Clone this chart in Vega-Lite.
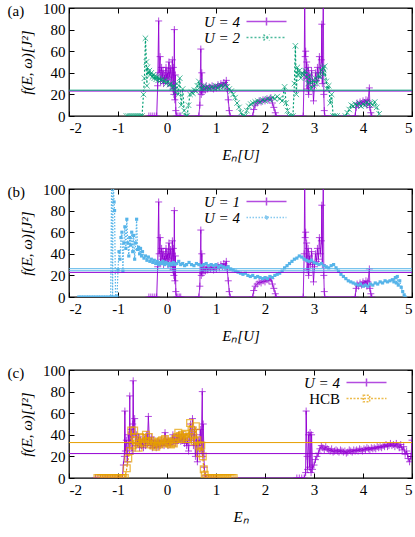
{
"$schema": "https://vega.github.io/schema/vega-lite/v6.json",
"padding": {"left": 6, "top": 0, "right": 0, "bottom": 0},
"spacing": 18,
"config": {
 "view": {"stroke": "black", "strokeWidth": 1.3},
 "font": "Liberation Serif",
 "axis": {"labelFont": "Liberation Serif", "labelFontSize": 15, "titleFont": "Liberation Serif", "titleFontSize": 15, "titleFontWeight": "normal", "titleFontStyle": "italic", "domain": false, "grid": false, "tickColor": "black", "labelColor": "black", "titleColor": "black", "tickSize": -5, "labelPadding": 9},
 "title": {"font": "Liberation Serif", "fontSize": 15, "fontWeight": "normal", "anchor": "start", "frame": "bounds", "offset": -18, "dx": -12},
 "legend": {"title": null, "orient": "none", "symbolSize": 64, "symbolStrokeWidth": 1.5, "labelAlign": "right", "labelOffset": -34, "labelFont": "Liberation Serif", "labelFontSize": 15, "rowPadding": -3, "labelColor": "black"}
},
"resolve": {"scale": {"color": "independent", "strokeDash": "independent", "shape": "independent"}, "legend": {"color": "independent", "strokeDash": "independent", "shape": "independent"}},
"datasets": {
"pa": [{"x":-0.37,"y":0},{"x":-0.33,"y":0},{"x":-0.29,"y":0},{"x":-0.25,"y":0},{"x":-0.21,"y":0},{"x":-0.19,"y":28},{"x":-0.17,"y":88},{"x":-0.16,"y":40},{"x":-0.14,"y":55},{"x":-0.13,"y":32},{"x":-0.11,"y":45},{"x":-0.1,"y":35},{"x":-0.08,"y":42},{"x":-0.07,"y":30},{"x":-0.05,"y":38},{"x":-0.04,"y":33},{"x":-0.02,"y":45},{"x":-0.01,"y":35},{"x":0.01,"y":40},{"x":0.02,"y":30},{"x":0.04,"y":50},{"x":0.05,"y":36},{"x":0.07,"y":44},{"x":0.08,"y":28},{"x":0.1,"y":40},{"x":0.11,"y":52},{"x":0.12,"y":25},{"x":0.13,"y":45},{"x":0.14,"y":20},{"x":0.15,"y":80},{"x":0.16,"y":15},{"x":0.17,"y":38},{"x":0.18,"y":5},{"x":0.19,"y":0},{"x":0.22,"y":0},{"x":0.25,"y":0},{"x":0.28,"y":0},{"x":0.65,"y":0},{"x":0.67,"y":10},{"x":0.69,"y":62},{"x":0.7,"y":20},{"x":0.71,"y":40},{"x":0.73,"y":22},{"x":0.75,"y":27},{"x":0.78,"y":24},{"x":0.8,"y":28},{"x":0.83,"y":25},{"x":0.86,"y":27},{"x":0.89,"y":26},{"x":0.92,"y":28},{"x":0.95,"y":25},{"x":0.98,"y":27},{"x":1.01,"y":26},{"x":1.04,"y":29},{"x":1.07,"y":27},{"x":1.1,"y":30},{"x":1.13,"y":28},{"x":1.16,"y":31},{"x":1.19,"y":29},{"x":1.21,"y":33},{"x":1.23,"y":25},{"x":1.25,"y":15},{"x":1.27,"y":5},{"x":1.29,"y":0},{"x":1.75,"y":0},{"x":1.77,"y":6},{"x":1.8,"y":10},{"x":1.84,"y":12},{"x":1.88,"y":14},{"x":1.92,"y":13},{"x":1.96,"y":15},{"x":2.0,"y":14},{"x":2.04,"y":16},{"x":2.08,"y":15},{"x":2.12,"y":17},{"x":2.15,"y":12},{"x":2.18,"y":8},{"x":2.21,"y":3},{"x":2.23,"y":0},{"x":2.78,"y":0},{"x":2.8,"y":40},{"x":2.81,"y":110},{"x":2.82,"y":55},{"x":2.83,"y":60},{"x":2.84,"y":35},{"x":2.85,"y":50},{"x":2.86,"y":25},{"x":2.88,"y":45},{"x":2.89,"y":20},{"x":2.91,"y":38},{"x":2.93,"y":30},{"x":2.95,"y":42},{"x":2.97,"y":32},{"x":2.99,"y":14},{"x":3.01,"y":28},{"x":3.03,"y":40},{"x":3.05,"y":33},{"x":3.07,"y":45},{"x":3.09,"y":35},{"x":3.11,"y":55},{"x":3.13,"y":40},{"x":3.15,"y":52},{"x":3.16,"y":85},{"x":3.17,"y":30},{"x":3.19,"y":110},{"x":3.2,"y":20},{"x":3.21,"y":5},{"x":3.22,"y":0},{"x":3.84,"y":0},{"x":3.86,"y":8},{"x":3.88,"y":12},{"x":3.91,"y":10},{"x":3.94,"y":13},{"x":3.97,"y":11},{"x":4.0,"y":14},{"x":4.03,"y":12},{"x":4.06,"y":15},{"x":4.08,"y":10},{"x":4.1,"y":14},{"x":4.13,"y":26},{"x":4.14,"y":8},{"x":4.16,"y":3},{"x":4.18,"y":0}],
"ga": [{"x":-0.83,"y":0},{"x":-0.79,"y":0},{"x":-0.75,"y":0},{"x":-0.71,"y":0},{"x":-0.67,"y":0},{"x":-0.63,"y":0},{"x":-0.59,"y":0},{"x":-0.55,"y":0},{"x":-0.51,"y":0},{"x":-0.48,"y":20},{"x":-0.46,"y":35},{"x":-0.44,"y":72},{"x":-0.42,"y":50},{"x":-0.41,"y":28},{"x":-0.4,"y":45},{"x":-0.38,"y":40},{"x":-0.36,"y":42},{"x":-0.34,"y":38},{"x":-0.32,"y":40},{"x":-0.3,"y":36},{"x":-0.28,"y":38},{"x":-0.26,"y":35},{"x":-0.24,"y":37},{"x":-0.22,"y":34},{"x":-0.2,"y":36},{"x":-0.18,"y":33},{"x":-0.16,"y":35},{"x":-0.13,"y":33},{"x":-0.1,"y":34},{"x":-0.07,"y":32},{"x":-0.04,"y":33},{"x":-0.01,"y":30},{"x":0.02,"y":32},{"x":0.05,"y":29},{"x":0.08,"y":30},{"x":0.11,"y":26},{"x":0.14,"y":28},{"x":0.17,"y":22},{"x":0.2,"y":30},{"x":0.23,"y":20},{"x":0.26,"y":35},{"x":0.29,"y":10},{"x":0.32,"y":25},{"x":0.35,"y":5},{"x":0.38,"y":0},{"x":0.41,"y":0},{"x":0.44,"y":10},{"x":0.47,"y":20},{"x":0.5,"y":22},{"x":0.53,"y":21},{"x":0.56,"y":24},{"x":0.59,"y":23},{"x":0.62,"y":28},{"x":0.65,"y":32},{"x":0.68,"y":27},{"x":0.71,"y":25},{"x":0.75,"y":28},{"x":0.79,"y":26},{"x":0.83,"y":27},{"x":0.87,"y":25},{"x":0.91,"y":27},{"x":0.95,"y":26},{"x":0.99,"y":28},{"x":1.03,"y":26},{"x":1.07,"y":27},{"x":1.11,"y":28},{"x":1.15,"y":27},{"x":1.19,"y":29},{"x":1.23,"y":27},{"x":1.27,"y":25},{"x":1.31,"y":23},{"x":1.35,"y":20},{"x":1.39,"y":17},{"x":1.43,"y":12},{"x":1.47,"y":8},{"x":1.51,"y":3},{"x":1.55,"y":0},{"x":1.59,"y":0},{"x":1.63,"y":5},{"x":1.67,"y":9},{"x":1.71,"y":11},{"x":1.75,"y":12},{"x":1.8,"y":13},{"x":1.85,"y":14},{"x":1.9,"y":13},{"x":1.95,"y":15},{"x":2.0,"y":14},{"x":2.05,"y":16},{"x":2.1,"y":15},{"x":2.15,"y":17},{"x":2.2,"y":16},{"x":2.25,"y":18},{"x":2.3,"y":16},{"x":2.35,"y":14},{"x":2.4,"y":27},{"x":2.43,"y":12},{"x":2.46,"y":5},{"x":2.49,"y":0},{"x":2.53,"y":0},{"x":2.57,"y":0},{"x":2.6,"y":30},{"x":2.62,"y":65},{"x":2.64,"y":20},{"x":2.66,"y":45},{"x":2.68,"y":38},{"x":2.7,"y":42},{"x":2.73,"y":35},{"x":2.76,"y":40},{"x":2.79,"y":38},{"x":2.82,"y":42},{"x":2.85,"y":36},{"x":2.88,"y":30},{"x":2.91,"y":38},{"x":2.94,"y":25},{"x":2.97,"y":33},{"x":3.0,"y":28},{"x":3.03,"y":35},{"x":3.06,"y":30},{"x":3.09,"y":38},{"x":3.12,"y":36},{"x":3.15,"y":42},{"x":3.18,"y":45},{"x":3.2,"y":38},{"x":3.22,"y":46},{"x":3.25,"y":32},{"x":3.27,"y":25},{"x":3.3,"y":28},{"x":3.33,"y":12},{"x":3.36,"y":20},{"x":3.39,"y":0},{"x":3.43,"y":0},{"x":3.47,"y":0},{"x":3.64,"y":0},{"x":3.68,"y":3},{"x":3.72,"y":6},{"x":3.76,"y":10},{"x":3.8,"y":9},{"x":3.84,"y":11},{"x":3.88,"y":10},{"x":3.92,"y":12},{"x":3.96,"y":9},{"x":4.0,"y":11},{"x":4.04,"y":10},{"x":4.08,"y":13},{"x":4.12,"y":11},{"x":4.16,"y":12},{"x":4.2,"y":10},{"x":4.24,"y":13},{"x":4.28,"y":8},{"x":4.33,"y":2}],
"lb": [{"x":-1.8,"y":0},{"x":-1.75,"y":0},{"x":-1.7,"y":0},{"x":-1.65,"y":0},{"x":-1.6,"y":0},{"x":-1.55,"y":0},{"x":-1.5,"y":0},{"x":-1.45,"y":0},{"x":-1.4,"y":0},{"x":-1.35,"y":0},{"x":-1.3,"y":0},{"x":-1.25,"y":0},{"x":-1.2,"y":0},{"x":-1.15,"y":0},{"x":-1.13,"y":110},{"x":-1.11,"y":0},{"x":-1.1,"y":110},{"x":-1.08,"y":88},{"x":-1.07,"y":80},{"x":-1.05,"y":0},{"x":-1.02,"y":0},{"x":-1.0,"y":25},{"x":-0.98,"y":42},{"x":-0.96,"y":35},{"x":-0.94,"y":55},{"x":-0.92,"y":60},{"x":-0.9,"y":24},{"x":-0.88,"y":50},{"x":-0.86,"y":65},{"x":-0.84,"y":45},{"x":-0.82,"y":72},{"x":-0.8,"y":50},{"x":-0.78,"y":38},{"x":-0.76,"y":55},{"x":-0.74,"y":48},{"x":-0.72,"y":60},{"x":-0.7,"y":42},{"x":-0.68,"y":57},{"x":-0.66,"y":35},{"x":-0.64,"y":50},{"x":-0.62,"y":72},{"x":-0.6,"y":44},{"x":-0.58,"y":46},{"x":-0.56,"y":40},{"x":-0.54,"y":45},{"x":-0.52,"y":38},{"x":-0.5,"y":42},{"x":-0.47,"y":36},{"x":-0.44,"y":38},{"x":-0.41,"y":34},{"x":-0.38,"y":37},{"x":-0.35,"y":33},{"x":-0.32,"y":35},{"x":-0.29,"y":32},{"x":-0.26,"y":34},{"x":-0.23,"y":31},{"x":-0.2,"y":33},{"x":-0.17,"y":30},{"x":-0.14,"y":32},{"x":-0.11,"y":31},{"x":-0.08,"y":33},{"x":-0.05,"y":30},{"x":-0.02,"y":32},{"x":0.01,"y":31},{"x":0.04,"y":29},{"x":0.07,"y":31},{"x":0.1,"y":30},{"x":0.13,"y":32},{"x":0.16,"y":30},{"x":0.2,"y":31},{"x":0.24,"y":33},{"x":0.28,"y":30},{"x":0.32,"y":31},{"x":0.36,"y":29},{"x":0.4,"y":30},{"x":0.45,"y":32},{"x":0.5,"y":30},{"x":0.55,"y":29},{"x":0.6,"y":31},{"x":0.65,"y":30},{"x":0.7,"y":29},{"x":0.75,"y":30},{"x":0.8,"y":31},{"x":0.85,"y":29},{"x":0.9,"y":30},{"x":0.95,"y":29},{"x":1.0,"y":30},{"x":1.05,"y":28},{"x":1.1,"y":29},{"x":1.15,"y":28},{"x":1.2,"y":27},{"x":1.25,"y":28},{"x":1.3,"y":26},{"x":1.35,"y":25},{"x":1.4,"y":24},{"x":1.45,"y":23},{"x":1.5,"y":22},{"x":1.55,"y":21},{"x":1.6,"y":22},{"x":1.65,"y":20},{"x":1.7,"y":19},{"x":1.75,"y":20},{"x":1.8,"y":18},{"x":1.85,"y":19},{"x":1.9,"y":18},{"x":1.95,"y":17},{"x":2.0,"y":18},{"x":2.05,"y":17},{"x":2.1,"y":19},{"x":2.15,"y":18},{"x":2.2,"y":20},{"x":2.25,"y":21},{"x":2.3,"y":22},{"x":2.35,"y":24},{"x":2.4,"y":27},{"x":2.45,"y":29},{"x":2.5,"y":31},{"x":2.55,"y":33},{"x":2.6,"y":35},{"x":2.65,"y":36},{"x":2.7,"y":38},{"x":2.75,"y":37},{"x":2.8,"y":35},{"x":2.85,"y":34},{"x":2.9,"y":33},{"x":2.95,"y":34},{"x":3.0,"y":32},{"x":3.05,"y":31},{"x":3.1,"y":30},{"x":3.15,"y":31},{"x":3.2,"y":29},{"x":3.25,"y":28},{"x":3.3,"y":27},{"x":3.35,"y":29},{"x":3.4,"y":30},{"x":3.45,"y":27},{"x":3.5,"y":24},{"x":3.55,"y":21},{"x":3.6,"y":19},{"x":3.65,"y":17},{"x":3.7,"y":15},{"x":3.75,"y":14},{"x":3.8,"y":13},{"x":3.85,"y":12},{"x":3.9,"y":11},{"x":3.95,"y":12},{"x":4.0,"y":10},{"x":4.05,"y":11},{"x":4.1,"y":10},{"x":4.15,"y":12},{"x":4.2,"y":11},{"x":4.25,"y":13},{"x":4.3,"y":12},{"x":4.35,"y":14},{"x":4.4,"y":13},{"x":4.45,"y":15},{"x":4.5,"y":14},{"x":4.55,"y":15},{"x":4.6,"y":16},{"x":4.63,"y":14},{"x":4.66,"y":18},{"x":4.68,"y":13},{"x":4.7,"y":19},{"x":4.72,"y":11},{"x":4.75,"y":15},{"x":4.78,"y":9},{"x":4.81,"y":5},{"x":4.84,"y":2},{"x":4.86,"y":0}],
"pc": [{"x":-1.46,"y":0},{"x":-1.41,"y":0},{"x":-1.36,"y":0},{"x":-1.31,"y":0},{"x":-1.26,"y":0},{"x":-1.21,"y":0},{"x":-1.16,"y":0},{"x":-1.11,"y":0},{"x":-1.06,"y":0},{"x":-1.01,"y":0},{"x":-0.96,"y":0},{"x":-0.91,"y":0},{"x":-0.89,"y":12},{"x":-0.87,"y":20},{"x":-0.86,"y":62},{"x":-0.85,"y":25},{"x":-0.83,"y":35},{"x":-0.81,"y":15},{"x":-0.79,"y":40},{"x":-0.77,"y":28},{"x":-0.76,"y":76},{"x":-0.75,"y":32},{"x":-0.73,"y":45},{"x":-0.71,"y":25},{"x":-0.7,"y":50},{"x":-0.69,"y":90},{"x":-0.68,"y":40},{"x":-0.66,"y":55},{"x":-0.64,"y":30},{"x":-0.62,"y":40},{"x":-0.6,"y":32},{"x":-0.58,"y":38},{"x":-0.56,"y":28},{"x":-0.54,"y":35},{"x":-0.52,"y":30},{"x":-0.5,"y":33},{"x":-0.48,"y":28},{"x":-0.46,"y":36},{"x":-0.44,"y":30},{"x":-0.42,"y":40},{"x":-0.4,"y":32},{"x":-0.38,"y":57},{"x":-0.36,"y":35},{"x":-0.34,"y":30},{"x":-0.32,"y":38},{"x":-0.3,"y":28},{"x":-0.28,"y":35},{"x":-0.26,"y":30},{"x":-0.24,"y":32},{"x":-0.22,"y":28},{"x":-0.2,"y":34},{"x":-0.18,"y":29},{"x":-0.16,"y":33},{"x":-0.14,"y":30},{"x":-0.12,"y":35},{"x":-0.1,"y":31},{"x":-0.08,"y":34},{"x":-0.06,"y":30},{"x":-0.04,"y":42},{"x":-0.02,"y":32},{"x":0.0,"y":36},{"x":0.02,"y":30},{"x":0.04,"y":34},{"x":0.06,"y":31},{"x":0.08,"y":35},{"x":0.1,"y":33},{"x":0.12,"y":40},{"x":0.14,"y":34},{"x":0.16,"y":37},{"x":0.18,"y":32},{"x":0.2,"y":38},{"x":0.22,"y":35},{"x":0.24,"y":40},{"x":0.26,"y":36},{"x":0.28,"y":34},{"x":0.3,"y":38},{"x":0.32,"y":35},{"x":0.34,"y":40},{"x":0.36,"y":32},{"x":0.38,"y":37},{"x":0.4,"y":30},{"x":0.42,"y":35},{"x":0.44,"y":25},{"x":0.46,"y":40},{"x":0.48,"y":50},{"x":0.5,"y":35},{"x":0.52,"y":55},{"x":0.54,"y":30},{"x":0.56,"y":45},{"x":0.58,"y":20},{"x":0.6,"y":40},{"x":0.62,"y":15},{"x":0.64,"y":35},{"x":0.66,"y":30},{"x":0.68,"y":45},{"x":0.7,"y":25},{"x":0.72,"y":80},{"x":0.73,"y":20},{"x":0.74,"y":50},{"x":0.76,"y":10},{"x":0.78,"y":2},{"x":0.8,"y":0},{"x":0.85,"y":0},{"x":0.9,"y":0},{"x":0.95,"y":0},{"x":1.0,"y":0},{"x":2.65,"y":0},{"x":2.7,"y":0},{"x":2.75,"y":0},{"x":2.8,"y":0},{"x":2.83,"y":5},{"x":2.84,"y":62},{"x":2.86,"y":20},{"x":2.87,"y":8},{"x":2.89,"y":40},{"x":2.91,"y":10},{"x":2.92,"y":42},{"x":2.94,"y":5},{"x":2.95,"y":40},{"x":2.97,"y":8},{"x":3.0,"y":12},{"x":3.03,"y":17},{"x":3.06,"y":20},{"x":3.09,"y":23},{"x":3.12,"y":27},{"x":3.15,"y":30},{"x":3.18,"y":28},{"x":3.21,"y":26},{"x":3.24,"y":29},{"x":3.27,"y":27},{"x":3.3,"y":26},{"x":3.33,"y":25},{"x":3.36,"y":27},{"x":3.39,"y":24},{"x":3.42,"y":25},{"x":3.45,"y":26},{"x":3.48,"y":25},{"x":3.51,"y":24},{"x":3.54,"y":26},{"x":3.57,"y":25},{"x":3.6,"y":24},{"x":3.63,"y":25},{"x":3.66,"y":23},{"x":3.69,"y":24},{"x":3.72,"y":26},{"x":3.75,"y":25},{"x":3.78,"y":24},{"x":3.81,"y":26},{"x":3.84,"y":25},{"x":3.87,"y":26},{"x":3.9,"y":25},{"x":3.93,"y":27},{"x":3.96,"y":26},{"x":3.99,"y":25},{"x":4.02,"y":27},{"x":4.05,"y":26},{"x":4.08,"y":28},{"x":4.11,"y":27},{"x":4.14,"y":26},{"x":4.17,"y":28},{"x":4.2,"y":27},{"x":4.23,"y":28},{"x":4.26,"y":27},{"x":4.29,"y":29},{"x":4.32,"y":28},{"x":4.35,"y":29},{"x":4.38,"y":28},{"x":4.41,"y":30},{"x":4.44,"y":29},{"x":4.47,"y":31},{"x":4.5,"y":29},{"x":4.53,"y":30},{"x":4.56,"y":32},{"x":4.59,"y":30},{"x":4.62,"y":31},{"x":4.65,"y":29},{"x":4.68,"y":32},{"x":4.71,"y":30},{"x":4.74,"y":28},{"x":4.77,"y":31},{"x":4.8,"y":26},{"x":4.83,"y":29},{"x":4.86,"y":22},{"x":4.89,"y":25},{"x":4.92,"y":18},{"x":4.95,"y":15},{"x":4.98,"y":20},{"x":5.0,"y":35}],
"oc": [{"x":-1.42,"y":0},{"x":-1.38,"y":0},{"x":-1.34,"y":0},{"x":-1.3,"y":0},{"x":-1.26,"y":0},{"x":-1.22,"y":0},{"x":-1.18,"y":0},{"x":-1.14,"y":0},{"x":-1.1,"y":0},{"x":-1.06,"y":0},{"x":-1.02,"y":0},{"x":-0.98,"y":0},{"x":-0.94,"y":0},{"x":-0.9,"y":0},{"x":-0.86,"y":0},{"x":-0.82,"y":9},{"x":-0.79,"y":18},{"x":-0.76,"y":25},{"x":-0.73,"y":44},{"x":-0.7,"y":30},{"x":-0.67,"y":44},{"x":-0.64,"y":35},{"x":-0.61,"y":32},{"x":-0.58,"y":28},{"x":-0.55,"y":38},{"x":-0.52,"y":33},{"x":-0.49,"y":37},{"x":-0.46,"y":32},{"x":-0.43,"y":40},{"x":-0.4,"y":34},{"x":-0.37,"y":38},{"x":-0.34,"y":31},{"x":-0.31,"y":34},{"x":-0.28,"y":30},{"x":-0.25,"y":32},{"x":-0.22,"y":29},{"x":-0.19,"y":33},{"x":-0.16,"y":31},{"x":-0.13,"y":34},{"x":-0.1,"y":35},{"x":-0.07,"y":32},{"x":-0.04,"y":36},{"x":-0.01,"y":33},{"x":0.02,"y":34},{"x":0.05,"y":32},{"x":0.08,"y":31},{"x":0.11,"y":33},{"x":0.14,"y":32},{"x":0.17,"y":36},{"x":0.2,"y":38},{"x":0.23,"y":42},{"x":0.26,"y":39},{"x":0.29,"y":37},{"x":0.32,"y":40},{"x":0.35,"y":38},{"x":0.38,"y":41},{"x":0.41,"y":36},{"x":0.44,"y":38},{"x":0.47,"y":51},{"x":0.5,"y":44},{"x":0.53,"y":40},{"x":0.56,"y":34},{"x":0.59,"y":48},{"x":0.62,"y":35},{"x":0.65,"y":30},{"x":0.67,"y":23},{"x":0.7,"y":30},{"x":0.73,"y":20},{"x":0.75,"y":8},{"x":0.77,"y":3},{"x":0.8,"y":0},{"x":0.84,"y":0},{"x":0.88,"y":0},{"x":0.92,"y":0},{"x":0.96,"y":0},{"x":1.0,"y":0},{"x":1.04,"y":0},{"x":1.08,"y":0},{"x":1.12,"y":0},{"x":1.16,"y":0},{"x":1.2,"y":0},{"x":1.24,"y":0},{"x":1.28,"y":0},{"x":1.32,"y":0},{"x":1.36,"y":0}]
},
"vconcat": [
{
 "width": 343, "height": 108,
 "title": {"text": "(a)"},
 "resolve": {"axis": {"x": "independent", "y": "independent"}},
 "layer": [
  {"data": {"name": "pa"}, "mark": {"type": "line", "strokeWidth": 1, "clip": true},
   "encoding": {"x": {"field": "x", "type": "quantitative", "scale": {"domain": [-2, 5], "nice": false}, "axis": {"values": [-2,-1,0,1,2,3,4,5], "labelExpr": "'' + datum.value", "title": "Eₙ[U]", "titlePadding": 12}},
    "y": {"field": "y", "type": "quantitative", "scale": {"domain": [0, 100], "nice": false}, "axis": {"values": [0,20,40,60,80,100], "title": "f(E, ω)[J²]", "titlePadding": 8}},
    "color": {"datum": "U = 4"}, "strokeDash": {"datum": "U = 4"}}},
  {"data": {"name": "pa"}, "mark": {"type": "point", "shape": "M-1,0H1M0,-1V1", "filled": false, "size": 49, "strokeWidth": 1, "clip": true},
   "encoding": {"x": {"field": "x", "type": "quantitative", "axis": {"orient": "top", "values": [-2,-1,0,1,2,3,4,5], "labels": false, "title": null}},
    "y": {"field": "y", "type": "quantitative", "axis": {"orient": "right", "values": [0,20,40,60,80,100], "labels": false, "title": null}},
    "color": {"datum": "U = 4"}}},
  {"data": {"name": "ga"}, "mark": {"type": "line", "strokeWidth": 1.2, "clip": true},
   "encoding": {"x": {"field": "x", "type": "quantitative", "axis": null}, "y": {"field": "y", "type": "quantitative", "axis": null},
    "color": {"datum": "U = 2"}, "strokeDash": {"datum": "U = 2"}}},
  {"data": {"name": "ga"}, "mark": {"type": "point", "shape": "M-1,-1L1,1M-1,1L1,-1", "filled": false, "size": 30, "strokeWidth": 1, "clip": true},
   "encoding": {"x": {"field": "x", "type": "quantitative", "axis": null}, "y": {"field": "y", "type": "quantitative", "axis": null},
    "color": {"datum": "U = 2"}}},
  {"data": {"values": [{"s": "U = 4", "y": 23.1}, {"s": "U = 2", "y": 23.9}]}, "mark": {"type": "rule", "strokeWidth": 1},
   "encoding": {"y": {"field": "y", "type": "quantitative", "axis": null}, "color": {"field": "s", "type": "nominal"}}},
  {"data": {"values": []}, "mark": {"type": "point", "filled": false},
   "encoding": {
    "color": {"datum": "U = 4", "scale": {"domain": ["U = 4", "U = 2"], "range": ["#9400D3", "#009E73"]}, "legend": {"title": null, "legendX": 190, "legendY": 6, "labelFontStyle": "italic"}},
    "strokeDash": {"datum": "U = 4", "scale": {"domain": ["U = 4", "U = 2"], "range": [[1,0],[2,2]]}, "legend": {"title": null, "legendX": 190, "legendY": 6, "labelFontStyle": "italic"}},
    "shape": {"datum": "U = 4", "scale": {"domain": ["U = 4", "U = 2"], "range": ["M-5,0H5M0,-1V1", "M-5,0H5M-0.75,-0.75L0.75,0.75M-0.75,0.75L0.75,-0.75"]}, "legend": {"title": null, "legendX": 190, "legendY": 6, "labelFontStyle": "italic"}}}}
 ]
},
{
 "width": 343, "height": 108,
 "title": {"text": "(b)"},
 "resolve": {"axis": {"x": "independent", "y": "independent"}},
 "layer": [
  {"data": {"name": "pa"}, "mark": {"type": "line", "strokeWidth": 1, "clip": true},
   "encoding": {"x": {"field": "x", "type": "quantitative", "scale": {"domain": [-2, 5], "nice": false}, "axis": {"values": [-2,-1,0,1,2,3,4,5], "labelExpr": "'' + datum.value", "title": "Eₙ[U]", "titlePadding": 12}},
    "y": {"field": "y", "type": "quantitative", "scale": {"domain": [0, 100], "nice": false}, "axis": {"values": [0,20,40,60,80,100], "title": "f(E, ω)[J²]", "titlePadding": 8}},
    "color": {"datum": "U = 1"}, "strokeDash": {"datum": "U = 1"}}},
  {"data": {"name": "pa"}, "mark": {"type": "point", "shape": "M-1,0H1M0,-1V1", "filled": false, "size": 49, "strokeWidth": 1, "clip": true},
   "encoding": {"x": {"field": "x", "type": "quantitative", "axis": {"orient": "top", "values": [-2,-1,0,1,2,3,4,5], "labels": false, "title": null}},
    "y": {"field": "y", "type": "quantitative", "axis": {"orient": "right", "values": [0,20,40,60,80,100], "labels": false, "title": null}},
    "color": {"datum": "U = 1"}}},
  {"data": {"name": "lb"}, "mark": {"type": "line", "strokeWidth": 1.2, "clip": true},
   "encoding": {"x": {"field": "x", "type": "quantitative", "axis": null}, "y": {"field": "y", "type": "quantitative", "axis": null},
    "color": {"datum": "U = 4"}, "strokeDash": {"datum": "U = 4"}}},
  {"data": {"name": "lb"}, "mark": {"type": "square", "size": 10, "clip": true, "opacity": 1},
   "encoding": {"x": {"field": "x", "type": "quantitative", "axis": null}, "y": {"field": "y", "type": "quantitative", "axis": null},
    "color": {"datum": "U = 4"}}},
  {"data": {"values": [{"s": "U = 1", "y": 22.8}, {"s": "U = 4", "y": 24.3}, {"s": "U = 4", "y": 26.2}]}, "mark": {"type": "rule", "strokeWidth": 1},
   "encoding": {"y": {"field": "y", "type": "quantitative", "axis": null}, "color": {"field": "s", "type": "nominal"}}},
  {"data": {"values": []}, "mark": {"type": "point", "filled": false},
   "encoding": {
    "color": {"datum": "U = 1", "scale": {"domain": ["U = 1", "U = 4"], "range": ["#9400D3", "#56B4E9"]}, "legend": {"title": null, "legendX": 190, "legendY": 5, "labelFontStyle": "italic"}},
    "strokeDash": {"datum": "U = 1", "scale": {"domain": ["U = 1", "U = 4"], "range": [[1,0],[1.5,1.5]]}, "legend": {"title": null, "legendX": 190, "legendY": 5, "labelFontStyle": "italic"}},
    "shape": {"datum": "U = 1", "scale": {"domain": ["U = 1", "U = 4"], "range": ["M-5,0H5M0,-1V1", "M-5,0H5M-0.35,-0.35H0.35V0.35H-0.35Z"]}, "legend": {"title": null, "legendX": 190, "legendY": 5, "labelFontStyle": "italic"}}}}
 ]
},
{
 "width": 343, "height": 108,
 "title": {"text": "(c)"},
 "resolve": {"axis": {"x": "independent", "y": "independent"}},
 "layer": [
  {"data": {"name": "pc"}, "mark": {"type": "line", "strokeWidth": 1, "clip": true},
   "encoding": {"x": {"field": "x", "type": "quantitative", "scale": {"domain": [-2, 5], "nice": false}, "axis": {"values": [-2,-1,0,1,2,3,4,5], "labelExpr": "'' + datum.value", "title": "Eₙ", "titlePadding": 12}},
    "y": {"field": "y", "type": "quantitative", "scale": {"domain": [0, 100], "nice": false}, "axis": {"values": [0,20,40,60,80,100], "title": "f(E, ω)[J²]", "titlePadding": 8}},
    "color": {"datum": "U = 4"}, "strokeDash": {"datum": "U = 4"}}},
  {"data": {"name": "pc"}, "mark": {"type": "point", "shape": "M-1,0H1M0,-1V1", "filled": false, "size": 49, "strokeWidth": 1, "clip": true},
   "encoding": {"x": {"field": "x", "type": "quantitative", "axis": {"orient": "top", "values": [-2,-1,0,1,2,3,4,5], "labels": false, "title": null}},
    "y": {"field": "y", "type": "quantitative", "axis": {"orient": "right", "values": [0,20,40,60,80,100], "labels": false, "title": null}},
    "color": {"datum": "U = 4"}}},
  {"data": {"name": "oc"}, "mark": {"type": "line", "strokeWidth": 1.2, "clip": true},
   "encoding": {"x": {"field": "x", "type": "quantitative", "axis": null}, "y": {"field": "y", "type": "quantitative", "axis": null},
    "color": {"datum": "HCB"}, "strokeDash": {"datum": "HCB"}}},
  {"data": {"name": "oc"}, "mark": {"type": "point", "shape": "square", "filled": false, "size": 45, "strokeWidth": 1.3, "clip": true},
   "encoding": {"x": {"field": "x", "type": "quantitative", "axis": null}, "y": {"field": "y", "type": "quantitative", "axis": null},
    "color": {"datum": "HCB"}}},
  {"data": {"values": [{"s": "U = 4", "y": 22.6}, {"s": "HCB", "y": 32.8}]}, "mark": {"type": "rule", "strokeWidth": 1},
   "encoding": {"y": {"field": "y", "type": "quantitative", "axis": null}, "color": {"field": "s", "type": "nominal"}}},
  {"data": {"values": []}, "mark": {"type": "point", "filled": false},
   "encoding": {
    "color": {"datum": "U = 4", "scale": {"domain": ["U = 4", "HCB"], "range": ["#9400D3", "#E69F00"]}, "legend": {"title": null, "legendX": 290, "legendY": 5, "labelFontStyle": {"expr": "datum.value === 'HCB' ? 'normal' : 'italic'"}}},
    "strokeDash": {"datum": "U = 4", "scale": {"domain": ["U = 4", "HCB"], "range": [[1,0],[2,1.5]]}, "legend": {"title": null, "legendX": 290, "legendY": 5, "labelFontStyle": {"expr": "datum.value === 'HCB' ? 'normal' : 'italic'"}}},
    "shape": {"datum": "U = 4", "scale": {"domain": ["U = 4", "HCB"], "range": ["M-5,0H5M0,-1V1", "M-5,0H5M-0.8,-0.8H0.8V0.8H-0.8Z"]}, "legend": {"title": null, "legendX": 290, "legendY": 5, "labelFontStyle": {"expr": "datum.value === 'HCB' ? 'normal' : 'italic'"}}}}}
 ]
}
]
}
